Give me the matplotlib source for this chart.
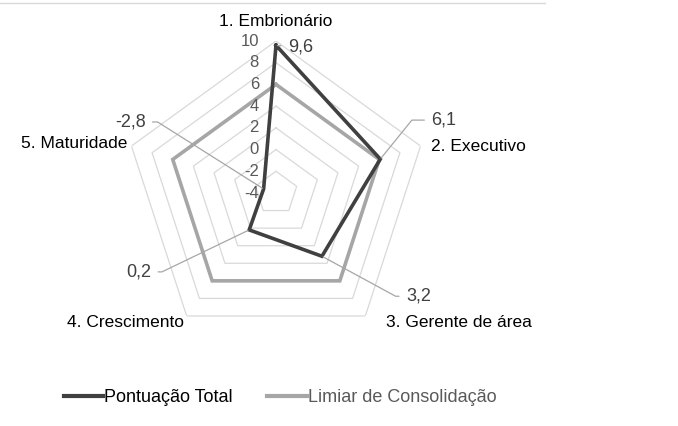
import numpy as np
import matplotlib
matplotlib.use('Agg')
import matplotlib.pyplot as plt
from matplotlib.lines import Line2D

plt.rcParams['font.family'] = ['Liberation Sans', 'DejaVu Sans']

categories = ['1. Embrionário', '2. Executivo', '3. Gerente de área',
              '4. Crescimento', '5. Maturidade']
pontuacao_total = [9.6, 6.1, 3.2, 0.2, -2.8]
limiar = [6, 6, 6, 6, 6]
value_labels = ['9,6', '6,1', '3,2', '0,2', '-2,8']
r_ticks = [-4, -2, 0, 2, 4, 6, 8, 10]

W, H = 678, 426
fig = plt.figure(figsize=(W / 100, H / 100), dpi=100)

cx, cy, R = 276, 193, 152
ax = fig.add_axes([(cx - R) / W, 1 - (cy + R) / H, 2 * R / W, 2 * R / H],
                  projection='polar')
ax.set_theta_zero_location('N')
ax.set_theta_direction(-1)
ax.set_ylim(-4, 10)
ax.grid(False)
ax.spines['polar'].set_visible(False)
ax.set_xticks([])
ax.set_yticks([])
ax.patch.set_alpha(0)

n = len(categories)
angles = np.arange(n) * 2 * np.pi / n
closed = np.append(angles, angles[0])

# pentagon gridlines
for lvl in r_ticks[1:]:
    ax.plot(closed, [lvl] * (n + 1), color='#d9d9d9', lw=0.9, zorder=1)

ax.plot(closed, limiar + limiar[:1], color='#a6a6a6', lw=2.6, zorder=3,
        solid_joinstyle='miter')
ax.plot(closed, pontuacao_total + pontuacao_total[:1], color='#404040', lw=2.6,
        zorder=4, solid_joinstyle='miter')

# radial tick labels along top axis
for v in r_ticks:
    ax.annotate(str(v), xy=(0, v), xytext=(-17, 0), textcoords='offset pixels',
                ha='right', va='center', fontsize=12, color='#595959',
                annotation_clip=False, zorder=5)

# category labels
cat_offsets = [(0, 20, 'center'), (10, 0, 'left'), (21, -7, 'left'),
               (-3, -7, 'right'), (-4, 3, 'right')]
for a, lab, (dx, dy, ha) in zip(angles, categories, cat_offsets):
    ax.annotate(lab, xy=(a, 10), xytext=(dx, dy), textcoords='offset pixels',
                ha=ha, va='center', fontsize=12.5, color='#000000',
                annotation_clip=False)

# data labels with leader lines
lab_offsets = [(12, -2, 'left', 'arc3'),
               (51, 39, 'left', 'angle,angleA=0,angleB=51,rad=0'),
               (84, -40, 'left', 'angle,angleA=0,angleB=-28.5,rad=0'),
               (-98, -42, 'right', 'angle,angleA=0,angleB=25.7,rad=0'),
               (-118, 67, 'right', 'angle,angleA=0,angleB=-32.3,rad=0')]
for a, v, txt, (dx, dy, ha, cs) in zip(angles, pontuacao_total, value_labels,
                                       lab_offsets):
    ax.annotate(txt, xy=(a, v), xytext=(dx, dy), textcoords='offset pixels',
                ha=ha, va='center', fontsize=13, color='#404040',
                annotation_clip=False, zorder=6,
                arrowprops=dict(arrowstyle='-', color='#a6a6a6', lw=0.9,
                                connectionstyle=cs, shrinkA=3, shrinkB=1))

# thin border line at top
fig.add_artist(Line2D([0, 545 / W], [1 - 3 / H, 1 - 3 / H], color='#d9d9d9',
                      lw=1, transform=fig.transFigure))

handles = [Line2D([], [], color='#404040', lw=3),
           Line2D([], [], color='#a6a6a6', lw=3)]
leg = fig.legend(handles, ['Pontuação Total', 'Limiar de Consolidação'],
                 loc='center', bbox_to_anchor=(280 / W, 1 - 398 / H), ncol=2,
                 frameon=False, fontsize=13, handlelength=2.2,
                 handletextpad=0.05, columnspacing=1.9)
leg.get_texts()[0].set_color('#000000')
leg.get_texts()[1].set_color('#595959')

fig.savefig('out.png', dpi=100)
